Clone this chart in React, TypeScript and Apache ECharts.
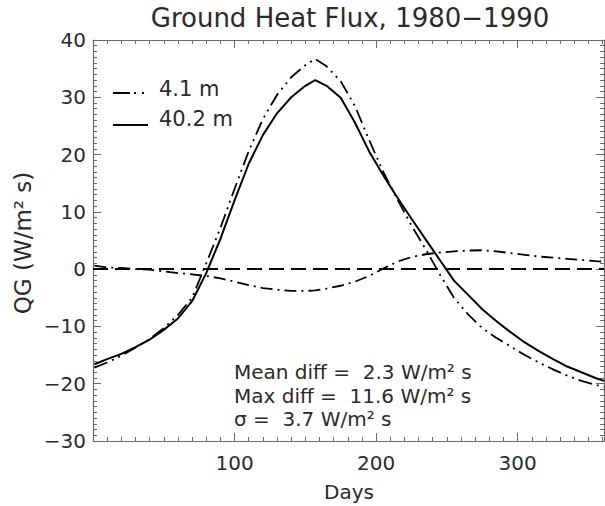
import React, { useEffect, useRef } from "react";
import * as echarts from "echarts";

// ---- Data ----
const days = [1, 10, 20, 30, 40, 50, 60, 70, 80, 90, 100, 110, 120, 130, 140, 150, 157, 165, 175, 185, 195, 205, 215, 225, 235, 245, 255, 265, 275, 285, 295, 305, 315, 325, 335, 345, 355, 361];

// QG at 4.1 m (dash-dot-dot)
const qg4m = [-17.2, -16.3, -15.1, -13.7, -12.2, -10.3, -8.0, -5.0, 1.0, 7.2, 14.0, 20.6, 26.2, 30.4, 33.5, 35.6, 36.7, 35.4, 32.8, 28.5, 22.6, 17.0, 12.2, 7.6, 3.5, -0.9, -5.0, -7.9, -10.3, -12.0, -13.5, -15.0, -16.3, -17.5, -18.6, -19.5, -20.2, -20.6];

// QG at 40.2 m (solid)
const qg40m = [-16.6, -15.7, -14.8, -13.6, -12.3, -10.6, -8.6, -5.6, -0.7, 5.3, 12.0, 18.4, 23.4, 27.2, 30.0, 32.0, 33.0, 32.0, 29.9, 25.6, 20.6, 16.4, 12.5, 8.8, 5.2, 1.6, -2.0, -4.5, -7.0, -9.1, -11.0, -12.8, -14.3, -15.7, -17.0, -18.0, -19.0, -19.5];

// Difference curve (dash-dot)
const qgDiff = [0.6, 0.3, 0.2, 0.0, -0.1, -0.4, -0.7, -0.9, -1.2, -1.6, -2.2, -2.8, -3.3, -3.6, -3.8, -3.8, -3.7, -3.4, -2.9, -2.2, -1.2, 0.1, 1.3, 2.1, 2.6, 2.9, 3.1, 3.25, 3.3, 3.1, 2.8, 2.5, 2.2, 2.0, 1.8, 1.6, 1.4, 1.3];

const seriesNames = ["4.1 m", "40.2 m"];
const titleText = "Ground Heat Flux, 1980\u22121990";
const xAxisTitle = "Days";
const yAxisTitle = "QG (W/m\u00b2 s)";
const statLines = [
  "Mean diff =  2.3 W/m\u00b2 s",
  "Max diff =  11.6 W/m\u00b2 s",
  "\u03c3 =  3.7 W/m\u00b2 s",
];

const X_MIN = 0;
const X_MAX = 361;
const X_MAJOR = 100;
const X_MINOR = 10;
const Y_MIN = -30;
const Y_MAX = 40;
const Y_MAJOR = 10;

const FONT = "DejaVu Sans";
const TEXT = "#2a2a2a";
const AXIS = "#6a6a6a";

export default function App() {
  const ref = useRef<HTMLDivElement>(null);

  useEffect(() => {
    if (!ref.current) return;
    const chart = echarts.init(ref.current, null, { renderer: "svg" });

    const pairs = (ys: number[]) => days.map((d, i) => [d, ys[i]]);
    const fmtNum = (v: number) => (v < 0 ? "\u2212" + Math.abs(v) : String(v));

    const xBase = {
      type: "value",
      min: X_MIN,
      max: X_MAX,
      splitLine: { show: false },
    };

    const xAxes = [
      {
        ...xBase,
        position: "bottom",
        interval: X_MAJOR,
        axisLine: { show: true, onZero: false, lineStyle: { color: AXIS, width: 1.2 } },
        axisTick: { show: true, inside: true, length: 8, lineStyle: { color: AXIS, width: 1 } },
        axisLabel: {
          show: true,
          margin: 12,
          fontSize: 20,
          fontFamily: FONT,
          color: TEXT,
          showMinLabel: false,
          showMaxLabel: false,
          formatter: (v: number) => (v % X_MAJOR === 0 && v > X_MIN ? fmtNum(v) : ""),
        },
      },
      {
        ...xBase,
        position: "bottom",
        interval: X_MINOR,
        axisLine: { show: false, onZero: false },
        axisTick: { show: true, inside: true, length: 4, lineStyle: { color: AXIS, width: 1 } },
        axisLabel: { show: false },
      },
      {
        ...xBase,
        position: "top",
        interval: X_MAJOR,
        axisLine: { show: true, onZero: false, lineStyle: { color: AXIS, width: 1.2 } },
        axisTick: { show: true, inside: true, length: 8, lineStyle: { color: AXIS, width: 1 } },
        axisLabel: { show: false },
      },
      {
        ...xBase,
        position: "top",
        interval: X_MINOR,
        axisLine: { show: false, onZero: false },
        axisTick: { show: true, inside: true, length: 4, lineStyle: { color: AXIS, width: 1 } },
        axisLabel: { show: false },
      },
    ];

    const yBase = {
      type: "value",
      min: Y_MIN,
      max: Y_MAX,
      interval: Y_MAJOR,
      splitLine: { show: false },
      axisLine: { show: true, onZero: false, lineStyle: { color: AXIS, width: 1.2 } },
      axisTick: { show: true, inside: true, length: 8, lineStyle: { color: AXIS, width: 1 } },
      minorTick: { show: true, splitNumber: 10, length: 4, lineStyle: { color: AXIS, width: 1 } },
    };

    const yAxes = [
      {
        ...yBase,
        position: "left",
        axisLabel: {
          show: true,
          margin: 7,
          fontSize: 20,
          fontFamily: FONT,
          color: TEXT,
          formatter: (v: number) => fmtNum(v),
        },
      },
      {
        ...yBase,
        position: "right",
        axisLabel: { show: false },
      },
    ];

    const legendX1 = 113;
    const legendX2 = 148;
    const legendTextX = 159;

    chart.setOption({
      animation: false,
      backgroundColor: "#ffffff",
      grid: { left: 93, right: 1, top: 40, bottom: 65, containLabel: false },
      xAxis: xAxes,
      yAxis: yAxes,
      series: [
        {
          name: seriesNames[1],
          type: "line",
          xAxisIndex: 0,
          yAxisIndex: 0,
          data: pairs(qg40m),
          symbol: "none",
          lineStyle: { color: "#000", width: 2 },
          z: 3,
        },
        {
          name: seriesNames[0],
          type: "line",
          xAxisIndex: 0,
          yAxisIndex: 0,
          data: pairs(qg4m),
          symbol: "none",
          lineStyle: { color: "#000", width: 1.8, type: [14, 5, 2, 5, 2, 5] },
          z: 3,
        },
        {
          name: "diff",
          type: "line",
          xAxisIndex: 0,
          yAxisIndex: 0,
          data: pairs(qgDiff),
          symbol: "none",
          lineStyle: { color: "#000", width: 1.8, type: [12, 5, 2, 5] },
          z: 3,
          markLine: {
            silent: true,
            symbol: "none",
            label: { show: false },
            lineStyle: { color: "#000", width: 2, type: [15, 7] },
            data: [{ yAxis: 0 }],
          },
        },
      ],
      graphic: [
        {
          type: "text",
          x: 350,
          y: 18,
          style: {
            text: titleText,
            fontSize: 26,
            fontFamily: FONT,
            fill: TEXT,
            align: "center",
            verticalAlign: "middle",
          },
        },
        {
          type: "text",
          x: 349,
          y: 492,
          style: {
            text: xAxisTitle,
            fontSize: 20,
            fontFamily: FONT,
            fill: TEXT,
            align: "center",
            verticalAlign: "middle",
          },
        },
        {
          type: "text",
          x: 23,
          y: 243,
          rotation: Math.PI / 2,
          style: {
            text: yAxisTitle,
            fontSize: 23,
            fontFamily: FONT,
            fill: TEXT,
            align: "center",
            verticalAlign: "middle",
          },
        },
        {
          type: "line",
          shape: { x1: legendX1, y1: 93, x2: legendX2, y2: 93 },
          style: { stroke: "#000", lineWidth: 2, lineDash: [17, 4, 2, 6, 2, 100] },
        },
        {
          type: "line",
          shape: { x1: legendX1, y1: 125, x2: legendX2, y2: 125 },
          style: { stroke: "#000", lineWidth: 2 },
        },
        {
          type: "text",
          x: legendTextX,
          y: 88.5,
          style: {
            text: seriesNames[0],
            fontSize: 21,
            fontFamily: FONT,
            fill: TEXT,
            align: "left",
            verticalAlign: "middle",
          },
        },
        {
          type: "text",
          x: legendTextX,
          y: 119,
          style: {
            text: seriesNames[1],
            fontSize: 21,
            fontFamily: FONT,
            fill: TEXT,
            align: "left",
            verticalAlign: "middle",
          },
        },
        ...statLines.map((t, i) => ({
          type: "text",
          x: 234,
          y: 372 + i * 23.5,
          style: {
            text: t,
            fontSize: 20,
            fontFamily: FONT,
            fill: TEXT,
            align: "left",
            verticalAlign: "middle",
          },
        })),
      ],
    });

    return () => chart.dispose();
  }, []);

  return (
    <div
      ref={ref}
      style={{ position: "fixed", left: 0, top: 0, width: 605, height: 506, background: "#fff" }}
    />
  );
}
